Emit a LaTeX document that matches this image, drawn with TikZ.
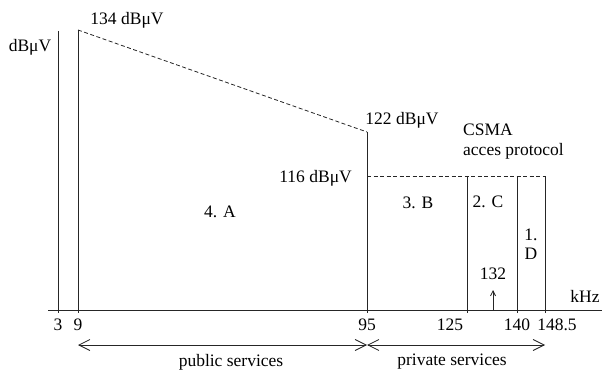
\documentclass[tikz,border=0pt]{standalone}
\usepackage{fontspec}
\setmainfont{Liberation Serif}
\usetikzlibrary{arrows.meta}
\begin{document}
\begin{tikzpicture}[x=1pt,y=-1pt,
  lbl/.style={inner sep=0pt,font=\fontsize{17.5}{20}\selectfont},
  ln/.style={line width=0.8pt,draw=black!85},
  dsh/.style={line width=0.8pt,draw=black!85,dash pattern=on 4pt off 2.5pt},
  svc/.style={line width=0.8pt,draw=black!85,{Straight Barb[length=11pt,width=11pt,line width=0.8pt]}-{Straight Barb[length=11pt,width=11pt,line width=0.8pt]}},
  up/.style={line width=0.8pt,draw=black!85,-{Straight Barb[length=5pt,width=5pt,line width=0.8pt]}}]
\useasboundingbox (0,0) rectangle (604,371);
% coordinates
\coordinate (a3t) at (58,31);   \coordinate (a3b) at (58,313);
\coordinate (a9t) at (78,30);   \coordinate (a9b) at (78,313);
\coordinate (a95t) at (367,132); \coordinate (a95b) at (367,313);
\coordinate (h95) at (367,176);
\coordinate (a125t) at (467,176); \coordinate (a125b) at (467,313);
\coordinate (a140t) at (517,176); \coordinate (a140b) at (517,313);
\coordinate (a148t) at (545,176); \coordinate (a148b) at (545,313);
\coordinate (axl) at (48,310);  \coordinate (axr) at (602,310);
\coordinate (m132b) at (493,310); \coordinate (m132t) at (493,290);
\coordinate (s9) at (78,345); \coordinate (s95) at (367,345); \coordinate (s148) at (545,345);
% lines
\draw[ln] (axl) -- (axr);
\draw[ln] (a3t) -- (a3b);
\draw[ln] (a9t) -- (a9b);
\draw[ln] (a95t) -- (a95b);
\draw[ln] (a125t) -- (a125b);
\draw[ln] (a140t) -- (a140b);
\draw[ln] (a148t) -- (a148b);
\draw[dsh] (a9t) -- (a95t);
\draw[dsh] (h95) -- (a148t);
\draw[up] (m132b) -- (m132t);
\draw[svc] (s9) -- (s95);
\draw[svc] (s95) -- (s148);
% labels
\node[lbl] (l134) at (127,20) {134 dBμV};
\node[lbl] (lunit) at (30,47) {dBμV};
\node[lbl] (l122) at (402,120) {122 dBμV};
\node[lbl,anchor=west] (lcsma) at (463,130) {CSMA};
\node[lbl,anchor=west] (lacc) at (463,151) {acces protocol};
\node[lbl,anchor=east] (l116) at (352,178) {116 dBμV};
\node[lbl] (lA) at (220,212) {4. A};
\node[lbl] (lB) at (418,203) {3. B};
\node[lbl] (lC) at (488,202) {2. C};
\node[lbl] (lD1) at (531,235) {1.};
\node[lbl] (lD2) at (531,254) {D};
\node[lbl] (l132) at (493,274) {132};
\node[lbl] (lkhz) at (585,296) {kHz};
\node[lbl] (t3) at (58,325) {3};
\node[lbl] (t9) at (78,325) {9};
\node[lbl] (t95) at (367,325) {95};
\node[lbl] (t125) at (450,325) {125};
\node[lbl] (t140) at (517,325) {140};
\node[lbl] (t148) at (557,325) {148.5};
\node[lbl] (lpub) at (231,362) {public services};
\node[lbl] (lpriv) at (452,362) {private services};
\end{tikzpicture}
\end{document}
